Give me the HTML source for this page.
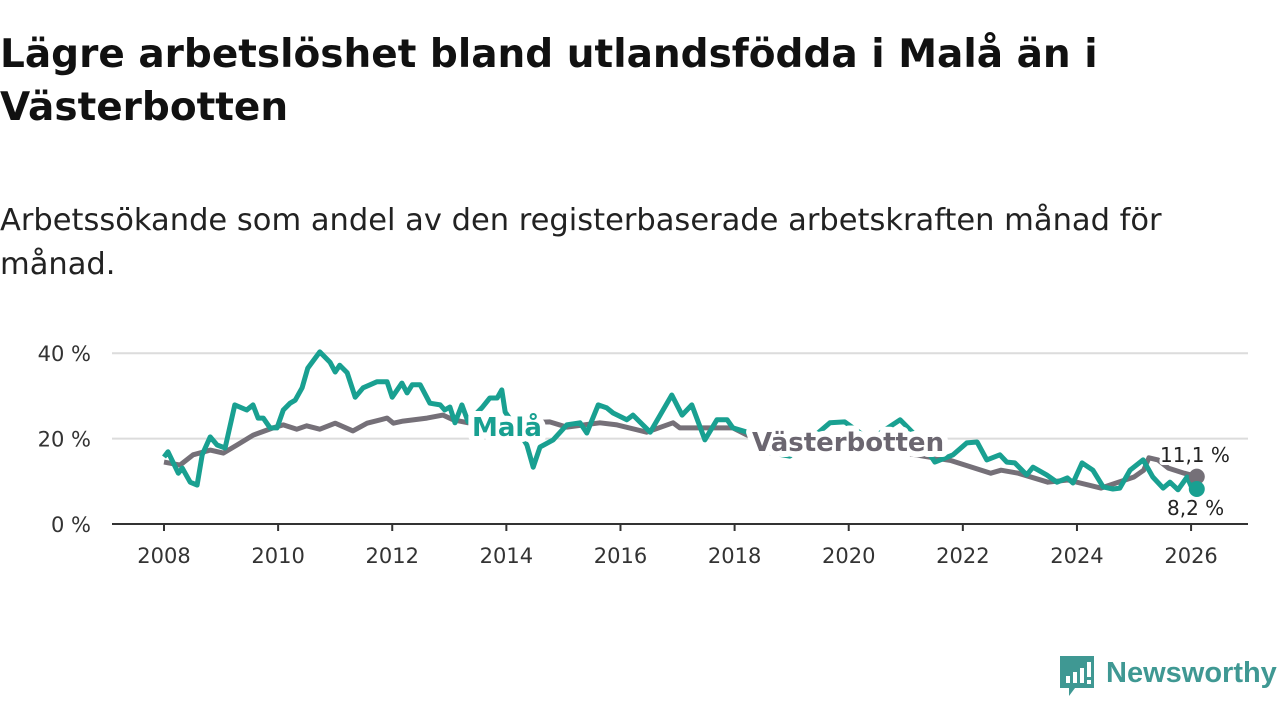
<!DOCTYPE html>
<html><head><meta charset="utf-8"><style>
body{margin:0;background:#fff;width:1280px;height:720px;overflow:hidden;font-family:"DejaVu Sans",sans-serif;}
h1{position:absolute;left:0;top:28px;margin:0;font-size:39px;line-height:53px;font-weight:bold;color:#111;white-space:nowrap;}
.sub{position:absolute;left:0;top:199px;margin:0;font-size:30.5px;line-height:44px;color:#222;white-space:nowrap;}
svg{position:absolute;left:0;top:0;}
</style></head><body>
<h1>Lägre arbetslöshet bland utlandsfödda i Malå än i<br>Västerbotten</h1>
<p class="sub">Arbetssökande som andel av den registerbaserade arbetskraften månad för<br>månad.</p>
<svg id="chart" width="1280" height="720"></svg>
<script>
const yTicks=[0,20,40];
const yTickLabels=["0 %","20 %","40 %"];
const xTicks=[2008,2010,2012,2014,2016,2018,2020,2022,2024,2026];
const malaX=[2008.0,2008.07,2008.25,2008.32,2008.46,2008.58,2008.67,2008.81,2008.93,2009.07,2009.24,2009.45,2009.56,2009.65,2009.74,2009.86,2009.98,2010.09,2010.21,2010.3,2010.42,2010.52,2010.73,2010.91,2011.0,2011.08,2011.21,2011.35,2011.49,2011.61,2011.73,2011.91,2012.0,2012.17,2012.26,2012.35,2012.49,2012.66,2012.84,2012.92,2013.01,2013.1,2013.22,2013.33,2013.57,2013.71,2013.84,2013.92,2013.98,2014.2,2014.36,2014.47,2014.59,2014.82,2015.06,2015.29,2015.41,2015.61,2015.76,2015.87,2016.11,2016.22,2016.52,2016.9,2017.08,2017.25,2017.48,2017.69,2017.87,2017.97,2018.22,2018.53,2018.97,2019.32,2019.67,2019.93,2020.37,2020.9,2021.25,2021.51,2021.83,2022.07,2022.25,2022.42,2022.65,2022.77,2022.91,2023.12,2023.23,2023.47,2023.65,2023.83,2023.93,2024.09,2024.28,2024.46,2024.63,2024.75,2024.93,2025.16,2025.33,2025.51,2025.63,2025.77,2025.93,2026.03,2026.1];
const malaY=[15.7,16.9,11.9,13.1,9.8,9.1,16.2,20.4,18.5,17.8,27.9,26.7,27.9,24.8,24.8,22.5,22.5,26.7,28.3,29.0,31.9,36.5,40.3,37.9,35.6,37.2,35.4,29.7,31.9,32.6,33.3,33.3,29.7,33.0,30.7,32.6,32.6,28.3,27.9,26.7,27.4,23.7,27.9,23.9,27.2,29.5,29.5,31.4,26.2,22.0,18.5,13.3,18.0,19.7,23.2,23.7,21.3,27.9,27.2,26.0,24.4,25.5,21.5,30.2,25.5,27.9,19.7,24.4,24.4,22.5,21.5,16.9,15.9,19.7,23.7,23.9,19.7,24.4,19.7,14.5,16.2,19.0,19.2,15.0,16.2,14.5,14.3,11.5,13.3,11.5,9.8,10.8,9.6,14.3,12.6,8.7,8.2,8.4,12.6,15.0,11.0,8.4,9.8,8.0,11.0,8.0,8.2];
const vbX=[2008.0,2008.28,2008.51,2008.81,2009.04,2009.28,2009.56,2009.91,2010.09,2010.33,2010.5,2010.73,2011.0,2011.31,2011.56,2011.91,2012.02,2012.19,2012.61,2012.89,2013.07,2013.33,2014.0,2014.76,2015.06,2015.64,2015.94,2016.46,2016.92,2017.04,2017.39,2017.97,2018.22,2019.0,2020.0,2021.0,2021.48,2021.78,2022.49,2022.67,2022.97,2023.49,2023.84,2024.42,2025.0,2025.17,2025.26,2025.42,2025.6,2025.88,2026.1];
const vbY=[14.5,13.8,16.2,17.3,16.6,18.5,20.8,22.5,23.2,22.2,23.0,22.2,23.6,21.8,23.6,24.8,23.6,24.1,24.8,25.5,24.4,23.7,23.5,23.9,22.7,23.7,23.2,21.5,23.7,22.5,22.5,22.5,20.8,19.2,17.8,16.6,15.5,14.9,11.9,12.6,11.9,9.8,10.3,8.4,11.0,12.6,15.5,15.0,13.1,11.9,11.1];
const NS="http://www.w3.org/2000/svg";
const svg=document.getElementById('chart');
const xs=y=>164+(y-2008)*57.06;
const ys=v=>524-v*4.27;
function mk(t,a,p){const e=document.createElementNS(NS,t);for(const k in a)e.setAttribute(k,a[k]);(p||svg).appendChild(e);return e;}
const F='DejaVu Sans, sans-serif';
yTicks.forEach((t,i)=>{
  if(t>0){const g=mk('line',{x1:112,x2:1248,y1:ys(t),y2:ys(t),stroke:'#dcdcdc','stroke-width':2});
  
  }
  const l=mk('text',{x:91,y:ys(t)+8,'text-anchor':'end','font-size':21,fill:'#333','font-family':F});
  l.textContent=yTickLabels[i];
  
  
});
const ax=mk('line',{x1:112,x2:1248,y1:524,y2:524,stroke:'#333','stroke-width':2});


xTicks.forEach(t=>{
  const tk=mk('line',{x1:xs(t),x2:xs(t),y1:524,y2:531,stroke:'#333','stroke-width':2});
  
  
  const l=mk('text',{x:xs(t),y:563,'text-anchor':'middle','font-size':21,fill:'#333','font-family':F});
  l.textContent=t;
  
  
});
function pts(X,Y){return X.map((x,i)=>xs(x).toFixed(1)+','+ys(Y[i]).toFixed(1)).join(' ');}
const vb=mk('polyline',{points:pts(vbX,vbY),fill:'none',stroke:'#757078','stroke-width':5,'stroke-linejoin':'round'});


const ml=mk('polyline',{points:pts(malaX,malaY),fill:'none',stroke:'#19a091','stroke-width':5,'stroke-linejoin':'round'});


const d=mk('circle',{cx:xs(vbX[vbX.length-1]),cy:ys(vbY[vbY.length-1]),r:8,fill:'#757078'});


const d2=mk('circle',{cx:xs(malaX[malaX.length-1]),cy:ys(malaY[malaY.length-1]),r:8,fill:'#19a091'});


function lab(txt,x,y,fill,size,bold,name,sw){
  const t=mk('text',{x:x,y:y,'font-size':size,fill:fill,'font-weight':bold?'bold':'normal','font-family':F,stroke:'#fff','stroke-width':sw,'paint-order':'stroke','stroke-linejoin':'round'});
  t.textContent=txt;
  
  
}
lab('Malå',472,436,'#19a091',26,true,'mala-label',12);
lab('Västerbotten',752,451,'#6b6670',26,true,'vasterbotten-label',12);
lab('11,1 %',1160,462,'#222',20,false,'vasterbotten-value-label',6);
lab('8,2 %',1167,515,'#222',20,false,'mala-value-label',6);
</script>
<svg width="1280" height="720" style="pointer-events:none">
<path d="M1060 656 h34 v32 h-19 l-6 8 v-8 h-9 z" fill="#3f9893"/>
<rect x="1066" y="676" width="4" height="7" fill="#fff"/><rect x="1073" y="672" width="4" height="11" fill="#fff"/><rect x="1080" y="668" width="4" height="15" fill="#fff"/><rect x="1087" y="662" width="4" height="15" fill="#fff"/><rect x="1087" y="680" width="4" height="4" fill="#fff"/>
<text x="1106" y="682" font-size="29" font-weight="bold" fill="#3f9893" font-family="Liberation Sans, sans-serif">Newsworthy</text>
</svg>
</body></html>
